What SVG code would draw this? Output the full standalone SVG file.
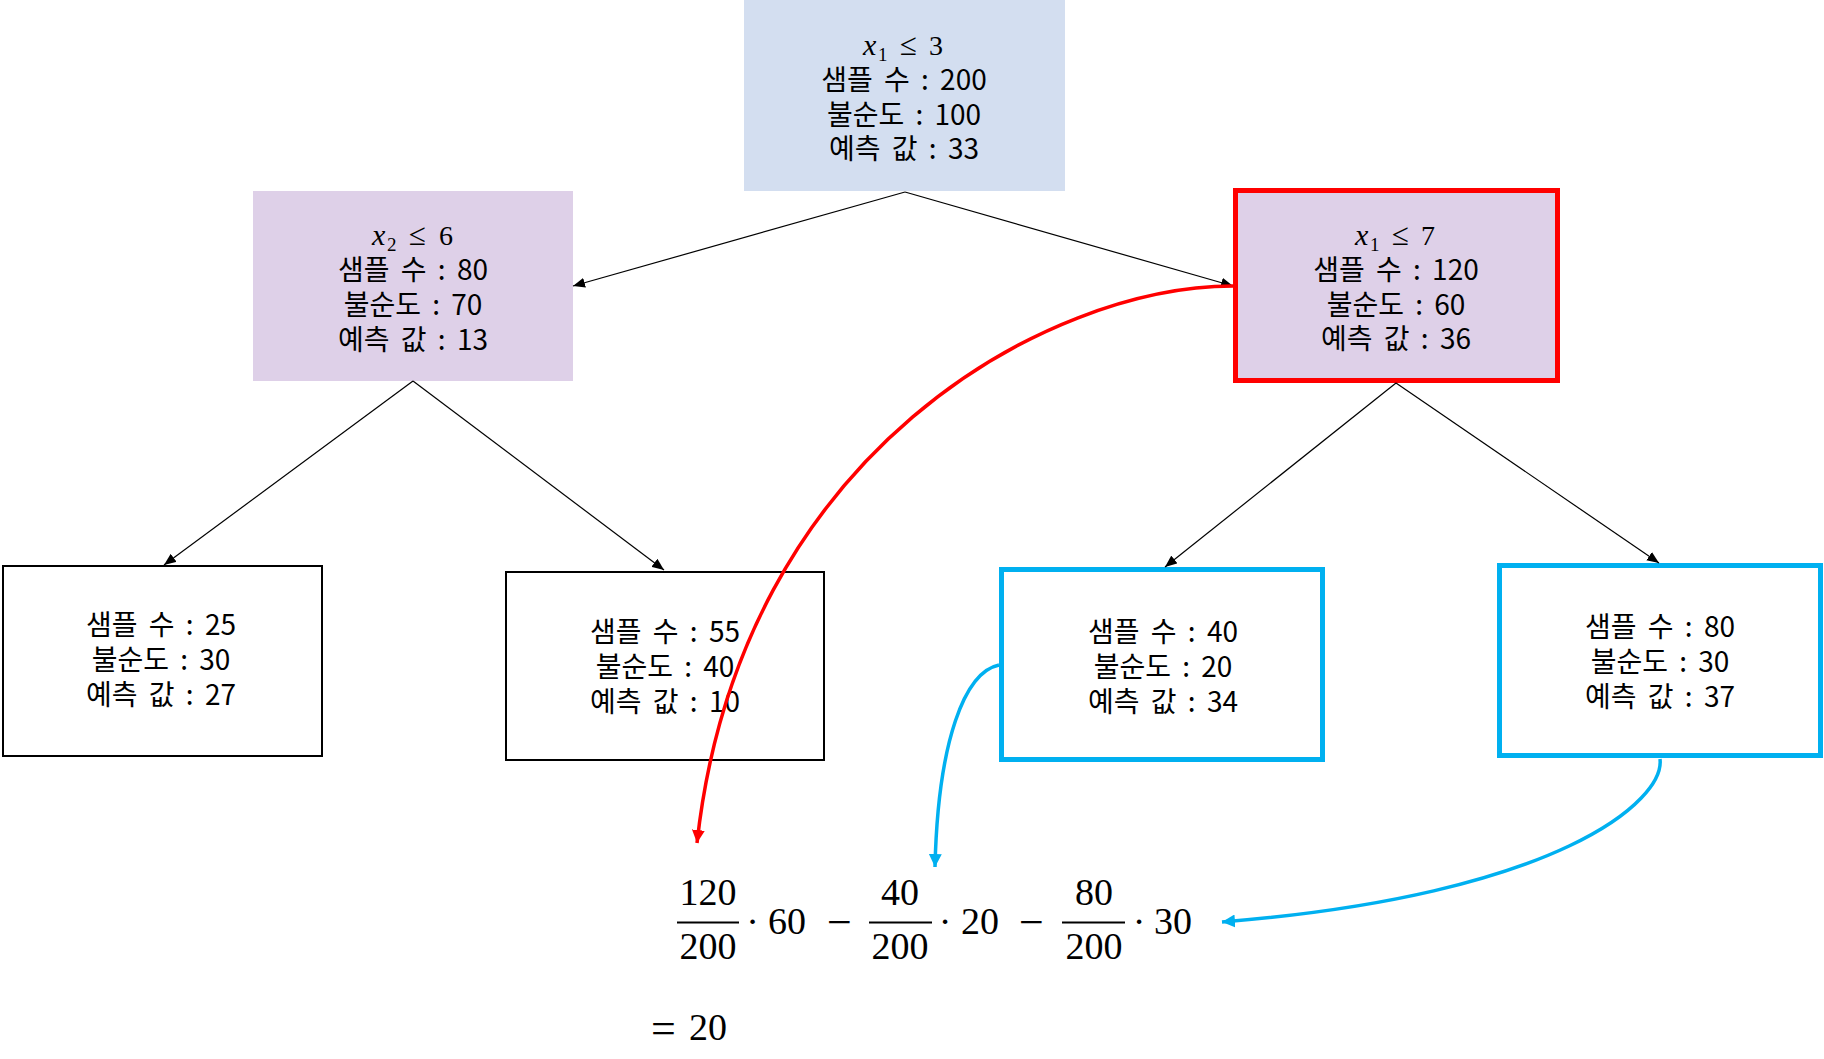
<svg xmlns="http://www.w3.org/2000/svg" width="1824" height="1059" viewBox="0 0 1824 1059">
<style>
.k{font-family:"Noto Sans CJK KR","Noto Sans",sans-serif;font-size:28px;fill:#000;text-anchor:middle;word-spacing:5px}
.m{font-family:"Liberation Serif","DejaVu Serif",serif;font-size:28px;fill:#000}
.mi{font-style:italic;font-size:30px}
.sub{font-size:19px}
.le{font-size:31px}
.e{font-family:"Liberation Serif","DejaVu Serif",serif;font-size:38px;fill:#000}
.op{font-size:44px}
.c{text-anchor:middle}
.blk{fill:none;stroke:#000;stroke-width:1.2}
.red{fill:none;stroke:#FF0000;stroke-width:3.5}
.blu{fill:none;stroke:#00B0F0;stroke-width:3.5}
.bar{stroke:#000;stroke-width:2}
</style>
<defs>
<marker id="ab" markerUnits="userSpaceOnUse" markerWidth="12" markerHeight="10" refX="12" refY="5" orient="auto"><path d="M0,0 L12,5 L0,10 Z" fill="#000"/></marker>
<marker id="ar" markerUnits="userSpaceOnUse" markerWidth="13" markerHeight="13" refX="13" refY="6.5" orient="auto"><path d="M0,0 L13,6.5 L0,13 Z" fill="#FF0000"/></marker>
<marker id="au" markerUnits="userSpaceOnUse" markerWidth="13" markerHeight="13" refX="13" refY="6.5" orient="auto"><path d="M0,0 L13,6.5 L0,13 Z" fill="#00B0F0"/></marker>
</defs>
<rect width="1824" height="1059" fill="#fff"/>

<g id="node-root">
<rect x="744" y="0" width="321" height="191" fill="#D3DEF0"/>
<text class="m"><tspan class="mi" x="863" y="55">x</tspan><tspan class="sub" x="878" y="61">1</tspan><tspan class="le" x="900" y="55">≤</tspan><tspan x="929" y="55">3</tspan></text>
<text class="k" x="904" y="90">샘플 수 : 200</text>
<text class="k" x="904" y="124.5">불순도 : 100</text>
<text class="k" x="904" y="159">예측 값 : 33</text>
</g>

<g id="node-left">
<rect x="253" y="191" width="320" height="190" fill="#DED0E8"/>
<text class="m"><tspan class="mi" x="372" y="245">x</tspan><tspan class="sub" x="387" y="251">2</tspan><tspan class="le" x="409" y="245">≤</tspan><tspan x="439" y="245">6</tspan></text>
<text class="k" x="413" y="280">샘플 수 : 80</text>
<text class="k" x="413" y="315">불순도 : 70</text>
<text class="k" x="413" y="350">예측 값 : 13</text>
</g>

<g id="node-right">
<rect x="1235.5" y="190.5" width="322" height="190" fill="#DED0E8" stroke="#FF0000" stroke-width="5"/>
<text class="m"><tspan class="mi" x="1355" y="245">x</tspan><tspan class="sub" x="1370" y="251">1</tspan><tspan class="le" x="1392" y="245">≤</tspan><tspan x="1421" y="245">7</tspan></text>
<text class="k" x="1396" y="280">샘플 수 : 120</text>
<text class="k" x="1396" y="315">불순도 : 60</text>
<text class="k" x="1396" y="349">예측 값 : 36</text>
</g>

<g id="leaf-1">
<rect x="3" y="566" width="319" height="190" fill="#fff" stroke="#000" stroke-width="2"/>
<text class="k" x="161" y="635">샘플 수 : 25</text>
<text class="k" x="161" y="670">불순도 : 30</text>
<text class="k" x="161" y="705">예측 값 : 27</text>
</g>

<g id="leaf-2">
<rect x="506" y="572" width="318" height="188" fill="#fff" stroke="#000" stroke-width="2"/>
<text class="k" x="665" y="642">샘플 수 : 55</text>
<text class="k" x="665" y="677">불순도 : 40</text>
<text class="k" x="665" y="712">예측 값 : 10</text>
</g>

<g id="leaf-3">
<rect x="1001.5" y="569.5" width="321" height="190" fill="#fff" stroke="#00B0F0" stroke-width="5"/>
<text class="k" x="1163" y="642">샘플 수 : 40</text>
<text class="k" x="1163" y="677">불순도 : 20</text>
<text class="k" x="1163" y="712">예측 값 : 34</text>
</g>

<g id="leaf-4">
<rect x="1499.5" y="565.5" width="321" height="190" fill="#fff" stroke="#00B0F0" stroke-width="5"/>
<text class="k" x="1660" y="637">샘플 수 : 80</text>
<text class="k" x="1660" y="672">불순도 : 30</text>
<text class="k" x="1660" y="707">예측 값 : 37</text>
</g>

<g id="equation">
<text class="e c" x="708" y="905">120</text>
<line class="bar" x1="677" y1="922.5" x2="739" y2="922.5"/>
<text class="e c" x="708" y="959">200</text>
<text class="e c" x="752.5" y="934">·</text>
<text class="e" x="768" y="934">60</text>
<text class="e op c" x="839.5" y="937">−</text>
<text class="e c" x="900" y="905">40</text>
<line class="bar" x1="869" y1="922.5" x2="932" y2="922.5"/>
<text class="e c" x="900" y="959">200</text>
<text class="e c" x="945" y="934">·</text>
<text class="e" x="961" y="934">20</text>
<text class="e op c" x="1031.5" y="937">−</text>
<text class="e c" x="1094" y="905">80</text>
<line class="bar" x1="1062" y1="922.5" x2="1125" y2="922.5"/>
<text class="e c" x="1094" y="959">200</text>
<text class="e c" x="1139" y="934">·</text>
<text class="e" x="1154" y="934">30</text>
<text class="e op c" x="663.5" y="1043">=</text>
<text class="e" x="689" y="1040">20</text>
</g>

<g id="connectors">
<line class="blk" x1="905" y1="192" x2="573" y2="286" marker-end="url(#ab)"/>
<line class="blk" x1="905" y1="192" x2="1233" y2="286" marker-end="url(#ab)"/>
<line class="blk" x1="413" y1="381" x2="164" y2="565" marker-end="url(#ab)"/>
<line class="blk" x1="413" y1="381" x2="664" y2="570" marker-end="url(#ab)"/>
<line class="blk" x1="1396" y1="383" x2="1165" y2="567" marker-end="url(#ab)"/>
<line class="blk" x1="1396" y1="383" x2="1659" y2="563" marker-end="url(#ab)"/>
<path class="red" d="M1233,286 C1050,286 740,450 697,843" marker-end="url(#ar)"/>
<path class="blu" d="M999,665 C965,672 938,740 935,867" marker-end="url(#au)"/>
<path class="blu" d="M1660,759 C1665,800 1560,895 1222,922" marker-end="url(#au)"/>
</g>
</svg>
